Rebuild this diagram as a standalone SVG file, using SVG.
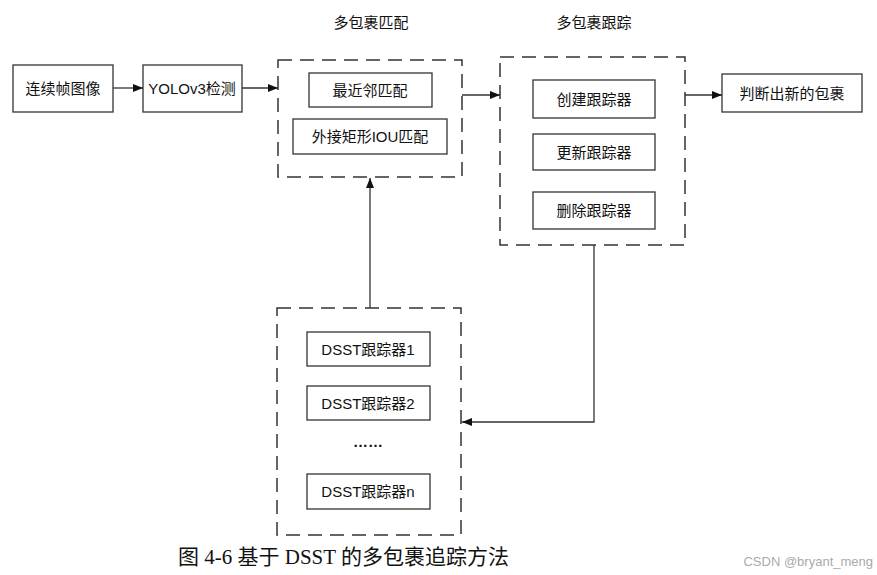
<svg xmlns="http://www.w3.org/2000/svg" width="877" height="575" viewBox="0 0 877 575">
<style>
.b{fill:#fff;stroke:#333;stroke-width:1.3}
.d{fill:none;stroke:#333;stroke-width:1.5;stroke-dasharray:14,8}
.t{font-family:"Liberation Sans","Noto Sans CJK SC",sans-serif;font-size:15px;fill:#111;text-anchor:middle;dominant-baseline:central}
.c{stroke:#333;stroke-width:1.3;fill:none}
</style>
<defs><marker id="a" markerWidth="10" markerHeight="8" refX="10" refY="4" orient="auto" markerUnits="userSpaceOnUse"><path d="M0,0L10,4L0,8z" fill="#111"/></marker></defs>
<rect width="877" height="575" fill="#fff"/>
<g id="g1"><rect class="d" x="278" y="60" width="184" height="117"/><text class="t" x="371" y="22">多包裹匹配</text></g>
<g id="g2"><rect class="d" x="500" y="57" width="185" height="188"/><text class="t" x="594" y="22">多包裹跟踪</text></g>
<g id="g3"><rect class="d" x="277" y="308" width="184" height="227"/></g>
<g id="n1"><rect class="b" x="13" y="65" width="100" height="47"/><text class="t" x="63" y="88">连续帧图像</text></g>
<g id="n2"><rect class="b" x="143" y="65" width="99" height="47"/><text class="t" x="192" y="88">YOLOv3检测</text></g>
<g id="n3"><rect class="b" x="309" y="73" width="123" height="34"/><text class="t" x="370" y="90">最近邻匹配</text></g>
<g id="n4"><rect class="b" x="293" y="119" width="154" height="35"/><text class="t" x="370" y="136">外接矩形IOU匹配</text></g>
<g id="n5"><rect class="b" x="533" y="80" width="122" height="38"/><text class="t" x="594" y="99">创建跟踪器</text></g>
<g id="n6"><rect class="b" x="533" y="134" width="122" height="36"/><text class="t" x="594" y="152">更新跟踪器</text></g>
<g id="n7"><rect class="b" x="533" y="192" width="122" height="37"/><text class="t" x="594" y="210">删除跟踪器</text></g>
<g id="n8"><rect class="b" x="722" y="74" width="140" height="38"/><text class="t" x="792" y="93">判断出新的包裹</text></g>
<g id="n9"><rect class="b" x="307" y="332" width="123" height="34"/><text class="t" x="368" y="349">DSST跟踪器1</text></g>
<g id="n10"><rect class="b" x="307" y="386" width="123" height="34"/><text class="t" x="368" y="403">DSST跟踪器2</text></g>
<g id="n11"><text class="t" x="368" y="441" font-weight="bold">……</text></g>
<g id="n12"><rect class="b" x="307" y="474" width="123" height="35"/><text class="t" x="368" y="491">DSST跟踪器n</text></g>
<g id="edges">
<path class="c" d="M113,88H143" marker-end="url(#a)"/>
<path class="c" d="M242,88H278" marker-end="url(#a)"/>
<path class="c" d="M462,95H500" marker-end="url(#a)"/>
<path class="c" d="M685,95H722" marker-end="url(#a)"/>
<path class="c" d="M594,245V422H462" marker-end="url(#a)"/>
<path class="c" d="M370,308V178" marker-end="url(#a)"/>
</g>
<text x="178" y="564" font-family="'Liberation Serif','Noto Sans CJK SC',serif" font-size="21" fill="#111">图 4-6  基于 DSST 的多包裹追踪方法</text>
<text x="873" y="566" text-anchor="end" font-family="'Liberation Sans',sans-serif" font-size="13" fill="#aaa">CSDN @bryant_meng</text>
</svg>
